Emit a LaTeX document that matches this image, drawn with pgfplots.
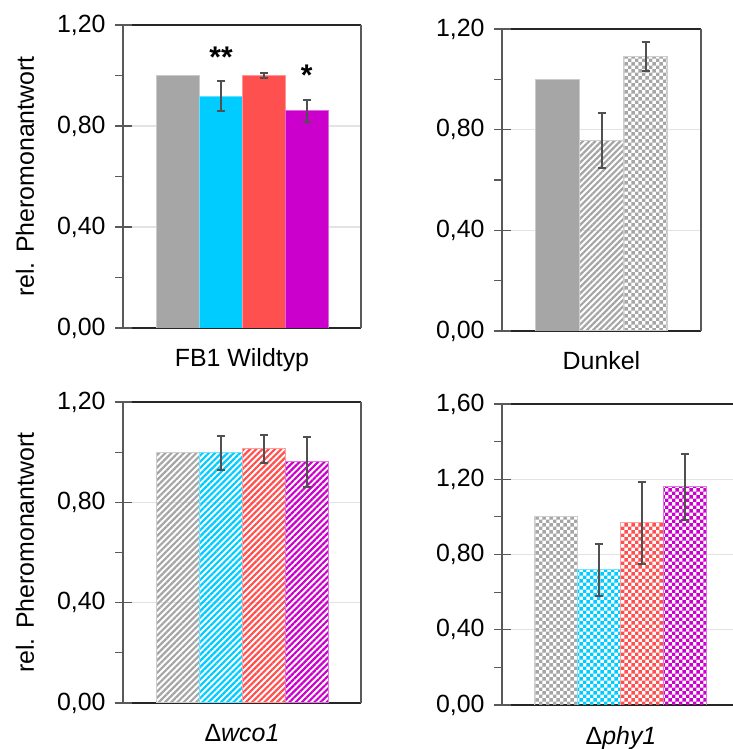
\documentclass[border=0pt]{standalone}
\usepackage{fontspec}
\setmainfont{Liberation Sans}
\usepackage{pgfplots}
\pgfplotsset{compat=1.18}
\usetikzlibrary{patterns,patterns.meta}

\definecolor{cgray}{HTML}{A6A6A6}
\definecolor{ccyan}{HTML}{00CCFF}
\definecolor{cred}{HTML}{FF5050}
\definecolor{cmag}{HTML}{CC00CC}
\definecolor{errc}{HTML}{505050}
\definecolor{gridc}{HTML}{E3E3E3}
\definecolor{xcol}{HTML}{262626}
\definecolor{ycol}{HTML}{595959}

\pgfdeclarepatternformonly{smallcheck}{\pgfpointorigin}{\pgfqpoint{7.4bp}{7.4bp}}{\pgfqpoint{7.4bp}{7.4bp}}{%
  \pgfpathrectangle{\pgfpointorigin}{\pgfqpoint{3.7bp}{3.7bp}}%
  \pgfpathrectangle{\pgfqpoint{3.7bp}{3.7bp}}{\pgfqpoint{3.7bp}{3.7bp}}%
  \pgfusepath{fill}}

\tikzset{sigstar/.style={font=\fontsize{30}{34}\selectfont\bfseries, anchor=base}}

\pgfplotsset{
  panel/.style={
    scale only axis, anchor=south west,
    ymin=0, xtick=\empty, ytick pos=left,
    ymajorgrids, grid style={gridc, line width=1.2bp},
    tick align=outside, major tick length=8bp, minor tick length=8bp,
    tick style={ycol, line width=1.2bp},
    separate axis lines,
    x axis line style={xcol, line width=1.5bp},
    y axis line style={ycol, line width=1.5bp},
    /pgf/number format/assume math mode=true,
    yticklabel style={font=\fontsize{25}{30}\selectfont, xshift=-6bp,
      /pgf/number format/fixed, /pgf/number format/fixed zerofill,
      /pgf/number format/precision=2, /pgf/number format/use comma},
    label style={font=\fontsize{25}{30}\selectfont},
    xlabel style={at={(axis description cs:0.5,0)}, anchor=base, yshift=-39bp},
    ylabel style={at={(rel axis cs:-0.412,0.5)}, anchor=center},
    extra y tick style={tick align=inside, major tick length=9bp, grid=none},
    extra y tick labels={},
  },
  bb/.style={ybar, bar width=1, bar shift=0pt},
  eb/.style={error bars/.cd, y dir=both, y explicit,
    error bar style={errc, line width=2bp},
    error mark options={rotate=90, mark size=4bp, line width=2bp, errc}},
  hatch/.style={pattern={Lines[angle=45,distance=4.4bp,line width=2.2bp]}, pattern color=#1, draw=#1!55, line width=1bp},
  check/.style={pattern=smallcheck, pattern color=#1, draw=#1!55, line width=1bp},
  solid/.style={fill=#1, draw=#1!60!white, line width=0.8bp},
}

\begin{document}
\begin{tikzpicture}
\useasboundingbox (0,0) rectangle (733bp,749bp);

% Panel 1: FB1 Wildtyp
\begin{axis}[panel, at={(123bp,421bp)}, width=238bp, height=303bp,
  xmin=-1.29, xmax=4.27, ymax=1.2,
  ytick={0,0.4,0.8,1.2}, minor ytick={0.2,0.6,1.0}, extra y ticks={0,0.4,0.8,1.2},
  ylabel={rel. Pheromonantwort}, xlabel={FB1 Wildtyp}]
\addplot[bb, solid=cgray] coordinates {(0,1.0)};
\addplot[bb, solid=ccyan, eb] coordinates {(1,0.919) +- (0,0.058)};
\addplot[bb, solid=cred, eb] coordinates {(2,1.0) +- (0,0.011)};
\addplot[bb, solid=cmag, eb] coordinates {(3,0.86) +- (0,0.043)};
\node[sigstar] at (axis cs:1,1.03) {**};
\node[sigstar] at (axis cs:3,0.962) {*};
\end{axis}

% Panel 2: Dunkel
\begin{axis}[panel, at={(502bp,418bp)}, width=199bp, height=302bp,
  xmin=-1.245, xmax=3.245, ymax=1.2,
  ytick={0,0.4,0.8,1.2}, minor ytick={0.2,0.6,1.0}, extra y ticks={0,0.4,0.8,1.2},
  xlabel={Dunkel}]
\addplot[bb, solid=cgray] coordinates {(0,1.0)};
\addplot[bb, hatch=cgray, eb] coordinates {(1,0.758) +- (0,0.11)};
\addplot[bb, check=cgray, eb] coordinates {(2,1.091) +- (0,0.058)};
\end{axis}

% Panel 3: Delta wco1
\begin{axis}[panel, at={(123bp,46bp)}, width=238bp, height=301bp,
  xmin=-1.29, xmax=4.27, ymax=1.2,
  ytick={0,0.4,0.8,1.2}, minor ytick={0.2,0.6,1.0}, extra y ticks={0,0.4,0.8,1.2},
  ylabel={rel. Pheromonantwort}, xlabel={Δ\textit{wco1}}]
\addplot[bb, hatch=cgray] coordinates {(0,1.0)};
\addplot[bb, hatch=ccyan, eb] coordinates {(1,0.997) +- (0,0.068)};
\addplot[bb, hatch=cred, eb] coordinates {(2,1.013) +- (0,0.056)};
\addplot[bb, hatch=cmag, eb] coordinates {(3,0.962) +- (0,0.10)};
\end{axis}

% Panel 4: Delta phy1
\begin{axis}[panel, at={(502bp,44bp)}, width=238bp, height=301bp,
  xmin=-1.25, xmax=4.29, ymax=1.6,
  ytick={0,0.4,0.8,1.2,1.6}, minor ytick={0.2,0.6,1.0,1.4}, extra y ticks={0,0.4,0.8,1.2,1.6},
  xlabel={Δ\textit{phy1}}]
\addplot[bb, check=cgray] coordinates {(0,1.0)};
\addplot[bb, check=ccyan, eb] coordinates {(1,0.718) +- (0,0.137)};
\addplot[bb, check=cred, eb] coordinates {(2,0.968) +- (0,0.22)};
\addplot[bb, check=cmag, eb] coordinates {(3,1.159) +- (0,0.175)};
\end{axis}
\end{tikzpicture}
\end{document}
